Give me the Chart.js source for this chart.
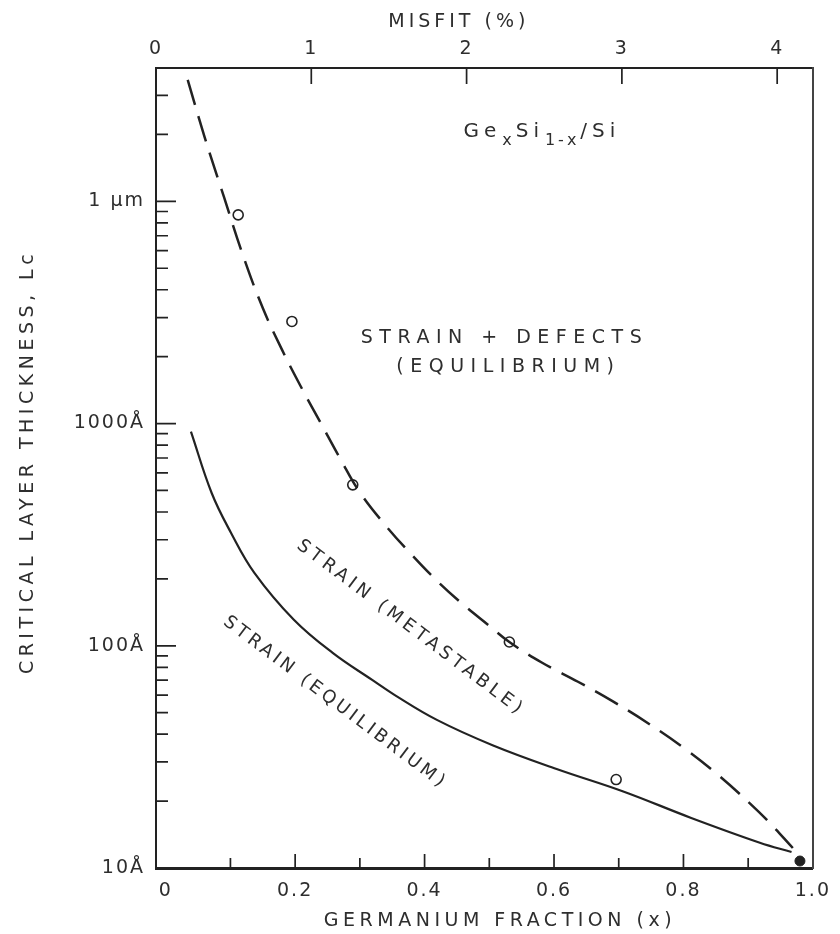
<!DOCTYPE html>
<html>
<head>
<meta charset="utf-8">
<script src="https://cdn.jsdelivr.net/npm/chart.js@4.4.1/dist/chart.umd.min.js"></script>
<style>
  html,body{margin:0;padding:0;background:#fff}
  #wrap{width:840px;height:934px}
</style>
</head>
<body>
<div id="wrap"><canvas id="c" width="840" height="934"></canvas></div>
<script>
/* ── data ── */
// metastable limit (dashed)
const metaX=[0.034,0.06,0.09,0.12,0.15,0.18,0.21,0.24,0.27,0.30,0.34,0.38,0.42,0.46,0.50,0.531,0.581,0.637,0.691,0.747,0.803,0.853,0.903,0.933,0.969];
const metaL=[35200,19500,10470,5650,3310,2140,1445,1000,692,490,347,257,195,153,123,104,84.1,68.9,56.2,44.5,34.3,26.3,19.5,16.0,12.3];
// equilibrium limit (solid)
const eqX=[0.039,0.071,0.101,0.137,0.198,0.258,0.319,0.354,0.419,0.505,0.604,0.707,0.812,0.918,0.967];
const eqL=[920,487,322,213,131,92.9,70.2,60.0,46.4,35.7,27.9,22.1,16.8,13.0,11.8];
// measured points
const openX=[0.112,0.195,0.289,0.531,0.696];
const openL=[8690,2880,530,104,25.0];
const dotX=[0.98];
const dotL=[10.75];
// axes
const xTickVals=[0,0.1,0.2,0.3,0.4,0.5,0.6,0.7,0.8,0.9,1.0];
const xTickLabels=['0','','0.2','','0.4','','0.6','','0.8','','1.0'];
const misfitTicks=[0,1,2,3,4];
const yTickVals=[10,100,1000,10000];
const yTickLabels=['10Å','100Å','1000Å','1 µm'];
const yMinor=[20,30,40,50,60,70,80,90,200,300,400,500,600,700,800,900,2000,3000,4000,5000,6000,7000,8000,9000,20000,30000];

const ink='#222', txt='#2e2e2e';
const FONT='"DejaVu Sans"';

function pts(xs,ys){return xs.map(function(x,i){return {x:x,y:ys[i]}})}

function say(ctx,text,x,y,ang,size,sp){
  ctx.save();
  ctx.translate(x,y);ctx.rotate(ang*Math.PI/180);
  ctx.font=size+'px '+FONT;ctx.letterSpacing=sp+'px';
  ctx.textAlign='center';ctx.textBaseline='middle';ctx.fillStyle=txt;
  ctx.fillText(text,0,0);
  ctx.restore();
}

const decor={
  id:'decor',
  beforeDraw(chart){chart.ctx.letterSpacing='2px'},
  afterDraw(chart){
    const ctx=chart.ctx, a=chart.chartArea;
    const X=chart.scales.x, X2=chart.scales.x2, Y=chart.scales.y;
    ctx.save();
    ctx.strokeStyle=ink;ctx.lineWidth=1.7;
    ctx.beginPath();
    // bottom ticks, inward
    xTickVals.forEach(function(v,i){
      if(v<=0||v>=1)return;
      const p=X.getPixelForValue(v);
      ctx.moveTo(p,a.bottom);ctx.lineTo(p,a.bottom-(i%2?10:14));
    });
    // top misfit ticks
    misfitTicks.forEach(function(v){
      if(v===0)return;
      const p=X2.getPixelForValue(v);
      ctx.moveTo(p,a.top);ctx.lineTo(p,a.top+16);
    });
    // left decade + minor ticks
    yTickVals.forEach(function(v){
      if(v===10)return;
      const p=Y.getPixelForValue(v);
      ctx.moveTo(a.left,p);ctx.lineTo(a.left+20,p);
    });
    yMinor.forEach(function(v){
      const p=Y.getPixelForValue(v);
      ctx.moveTo(a.left,p);ctx.lineTo(a.left+12,p);
    });
    ctx.stroke();
    ctx.restore();

    // axis titles
    say(ctx,'MISFIT (%)',X2.getPixelForValue(1.95),22,0,19,4);
    say(ctx,'GERMANIUM FRACTION (x)',500,921,0,19,4.5);
    say(ctx,'CRITICAL LAYER THICKNESS, Lc',28,462,-90,19,4.5);

    // region labels
    say(ctx,'STRAIN + DEFECTS',X.getPixelForValue(0.5235),Y.getPixelForValue(2430),0,19,6.5);
    say(ctx,'(EQUILIBRIUM)',X.getPixelForValue(0.5295),Y.getPixelForValue(1800),0,19,6.5);
    say(ctx,'STRAIN (METASTABLE)',X.getPixelForValue(0.379),Y.getPixelForValue(120),37,18,4.2);
    say(ctx,'STRAIN (EQUILIBRIUM)',X.getPixelForValue(0.262),Y.getPixelForValue(55.3),37,18,3.6);

    // Ge_x Si_1-x / Si
    ctx.save();
    ctx.fillStyle=txt;ctx.textBaseline='middle';ctx.textAlign='left';
    let px=X.getPixelForValue(0.46);
    const py=Y.getPixelForValue(20500);
    [['Ge',0],['x',1],['Si',0],['1-x',1],['/Si',0]].forEach(function(s){
      ctx.font=(s[1]?16:20)+'px '+FONT;
      ctx.letterSpacing=(s[1]?3:5)+'px';
      ctx.fillText(s[0],px,py+(s[1]?9:0));
      px+=ctx.measureText(s[0]).width+1;
    });
    ctx.restore();
  }
};

new Chart(document.getElementById('c'),{
  type:'line',
  data:{datasets:[
    {data:pts(metaX,metaL),borderColor:ink,borderWidth:2.5,borderDash:[26,12],pointRadius:0,tension:0.4,fill:false},
    {data:pts(eqX,eqL),borderColor:ink,borderWidth:2.2,pointRadius:0,tension:0.4,fill:false},
    {data:pts(openX,openL),showLine:false,pointStyle:'circle',pointRadius:5,pointBorderWidth:1.6,pointBorderColor:ink,pointBackgroundColor:'#fff'},
    {data:pts(dotX,dotL),showLine:false,pointStyle:'circle',pointRadius:5,pointBorderWidth:1,pointBorderColor:ink,pointBackgroundColor:ink}
  ]},
  options:{
    responsive:false,animation:false,
    layout:{padding:0},
    plugins:{legend:{display:false},tooltip:{enabled:false}},
    scales:{
      x:{type:'linear',position:'bottom',min:-0.015,max:1.0,
        afterBuildTicks:function(s){s.ticks=xTickVals.map(function(v){return {value:v}})},
        afterFit:function(s){s.height=66},
        grid:{display:false,drawTicks:false},
        border:{display:true,color:ink,width:3},
        ticks:{callback:function(v,i){return xTickLabels[i]},autoSkip:false,maxRotation:0,padding:12,color:txt,font:{family:'DejaVu Sans',size:19}}},
      x2:{type:'linear',position:'top',min:0,max:4.23,
        afterBuildTicks:function(s){s.ticks=misfitTicks.map(function(v){return {value:v}})},
        afterFit:function(s){s.height=68},
        grid:{display:false,drawTicks:false},
        border:{display:true,color:ink,width:2},
        ticks:{callback:function(v){return String(v)},autoSkip:false,maxRotation:0,padding:8,color:txt,font:{family:'DejaVu Sans',size:19}}},
      y:{type:'logarithmic',position:'left',min:10,max:Math.pow(10,4.6),
        afterBuildTicks:function(s){s.ticks=yTickVals.map(function(v){return {value:v}})},
        afterFit:function(s){s.width=156},
        grid:{display:false,drawTicks:false},
        border:{display:true,color:ink,width:2},
        ticks:{callback:function(v,i){return yTickLabels[i]},autoSkip:false,padding:11,color:txt,font:{family:'DejaVu Sans',size:19}}},
      y2:{type:'logarithmic',position:'right',min:10,max:Math.pow(10,4.6),
        afterFit:function(s){s.width=13},
        grid:{display:false,drawTicks:false},
        border:{display:true,color:'#444',width:2},
        ticks:{display:false}}
    }
  },
  plugins:[decor]
});
</script>
</body>
</html>
